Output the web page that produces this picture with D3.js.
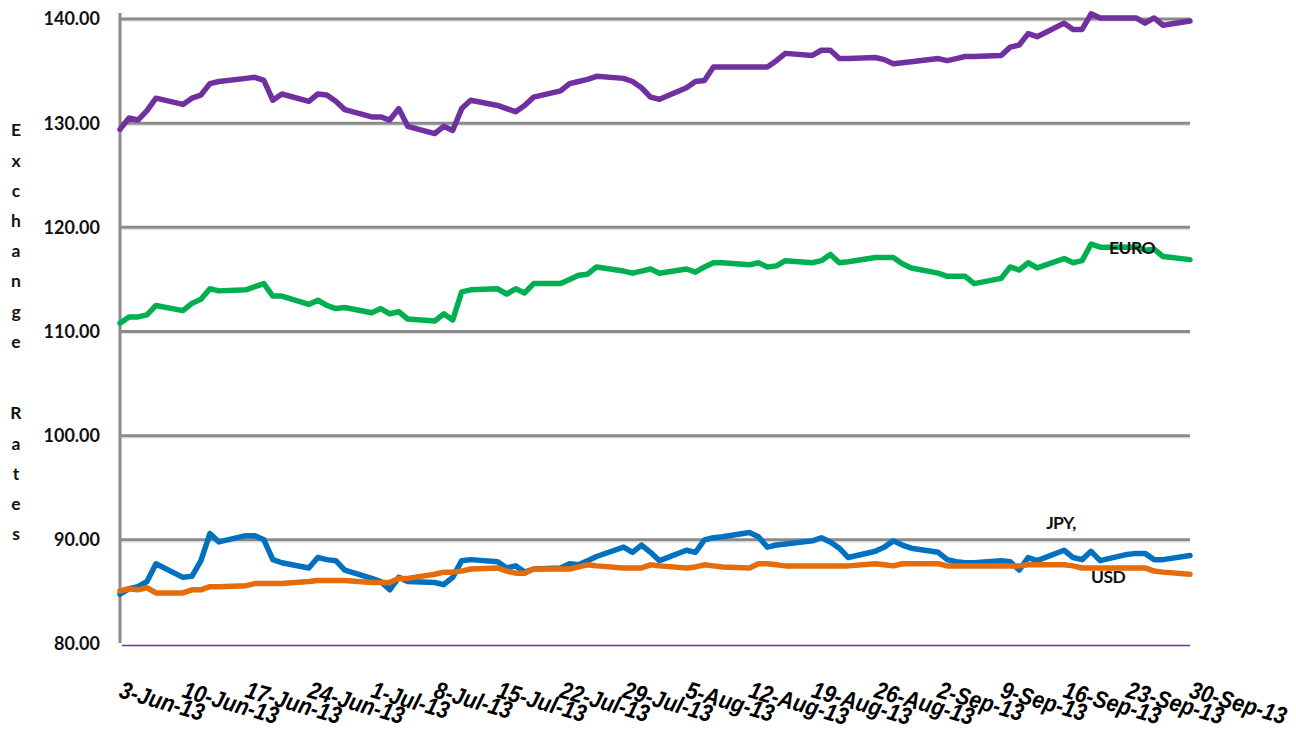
<!DOCTYPE html>
<html>
<head>
<meta charset="utf-8">
<script src="https://cdn.jsdelivr.net/npm/d3@7"></script>
<style>
  html, body { margin: 0; padding: 0; background: #fff; }
  svg { display: block; }
</style>
</head>
<body>
<svg id="chart" width="1296" height="734"></svg>
<script>
// ---------- DATA ----------
const dates = [
  "2013-06-03","2013-06-04","2013-06-05","2013-06-06","2013-06-07",
  "2013-06-10","2013-06-11","2013-06-12","2013-06-13","2013-06-14",
  "2013-06-17","2013-06-18","2013-06-19","2013-06-20","2013-06-21",
  "2013-06-24","2013-06-25","2013-06-26","2013-06-27","2013-06-28",
  "2013-07-01","2013-07-02","2013-07-03","2013-07-04","2013-07-05",
  "2013-07-08","2013-07-09","2013-07-10","2013-07-11","2013-07-12",
  "2013-07-15","2013-07-16","2013-07-17","2013-07-18","2013-07-19",
  "2013-07-22","2013-07-23","2013-07-24","2013-07-25","2013-07-26",
  "2013-07-29","2013-07-30","2013-07-31","2013-08-01","2013-08-02",
  "2013-08-05","2013-08-06","2013-08-07","2013-08-08","2013-08-09",
  "2013-08-12","2013-08-13","2013-08-14","2013-08-15","2013-08-16",
  "2013-08-19","2013-08-20","2013-08-21","2013-08-22","2013-08-23",
  "2013-08-26","2013-08-27","2013-08-28","2013-08-29","2013-08-30",
  "2013-09-02","2013-09-03","2013-09-04","2013-09-05","2013-09-06",
  "2013-09-09","2013-09-10","2013-09-11","2013-09-12","2013-09-13",
  "2013-09-16","2013-09-17","2013-09-18","2013-09-19","2013-09-20",
  "2013-09-23","2013-09-24","2013-09-25","2013-09-26","2013-09-27",
  "2013-09-30"
];

const gbp = [
  129.4,130.5,130.3,131.2,132.4,
  131.8,132.4,132.7,133.8,134.0,
  134.3,134.4,134.1,132.2,132.8,
  132.1,132.8,132.7,132.1,131.3,
  130.6,130.6,130.3,131.4,129.7,
  129.0,129.7,129.3,131.4,132.2,
  131.7,131.4,131.1,131.7,132.5,
  133.1,133.8,134.0,134.2,134.5,
  134.3,134.0,133.4,132.5,132.3,
  133.4,134.0,134.1,135.4,135.4,
  135.4,135.4,135.4,136.0,136.7,
  136.5,137.0,137.0,136.2,136.2,
  136.3,136.1,135.7,135.8,135.9,
  136.2,136.0,136.2,136.4,136.4,
  136.5,137.3,137.5,138.6,138.3,
  139.6,139.0,139.0,140.5,140.1,
  140.1,140.1,139.6,140.1,139.4,
  139.8
];

const euro = [
  110.8,111.4,111.4,111.6,112.5,
  112.0,112.7,113.1,114.1,113.9,
  114.0,114.3,114.6,113.4,113.4,
  112.6,113.0,112.5,112.2,112.3,
  111.8,112.2,111.7,111.9,111.2,
  111.0,111.7,111.1,113.8,114.0,
  114.1,113.6,114.1,113.7,114.6,
  114.6,115.0,115.4,115.5,116.2,
  115.8,115.6,115.8,116.0,115.6,
  116.0,115.7,116.2,116.6,116.6,
  116.4,116.6,116.2,116.3,116.8,
  116.6,116.8,117.4,116.6,116.7,
  117.1,117.1,117.1,116.5,116.1,
  115.6,115.3,115.3,115.3,114.6,
  115.1,116.2,115.9,116.6,116.1,
  117.0,116.6,116.8,118.4,118.1,
  118.1,118.1,117.8,117.9,117.2,
  116.9
];

const jpy = [
  84.8,85.3,85.5,86.0,87.7,
  86.4,86.5,88.0,90.6,89.8,
  90.4,90.4,90.0,88.1,87.8,
  87.3,88.3,88.1,88.0,87.1,
  86.3,86.0,85.2,86.4,86.0,
  85.9,85.7,86.4,88.0,88.1,
  87.9,87.3,87.5,86.9,87.2,
  87.3,87.7,87.6,88.0,88.4,
  89.3,88.8,89.5,88.8,88.0,
  89.0,88.8,90.0,90.2,90.3,
  90.7,90.3,89.3,89.5,89.6,
  89.9,90.2,89.8,89.2,88.3,
  88.9,89.3,89.9,89.5,89.2,
  88.8,88.1,87.9,87.8,87.8,
  88.0,87.9,87.1,88.3,88.0,
  89.0,88.3,88.1,88.9,88.0,
  88.6,88.7,88.7,88.1,88.1,
  88.5
];

const usd = [
  85.1,85.3,85.2,85.4,84.9,
  84.9,85.2,85.2,85.5,85.5,
  85.6,85.8,85.8,85.8,85.8,
  86.0,86.1,86.1,86.1,86.1,
  85.9,85.9,85.9,86.3,86.3,
  86.7,86.9,86.9,87.0,87.2,
  87.3,87.0,86.8,86.8,87.2,
  87.2,87.2,87.4,87.6,87.5,
  87.3,87.3,87.3,87.6,87.5,
  87.3,87.4,87.6,87.5,87.4,
  87.3,87.7,87.7,87.6,87.5,
  87.5,87.5,87.5,87.5,87.5,
  87.7,87.6,87.5,87.7,87.7,
  87.7,87.5,87.5,87.5,87.5,
  87.5,87.5,87.5,87.6,87.6,
  87.6,87.5,87.3,87.3,87.3,
  87.3,87.3,87.3,87.0,86.9,
  86.7
];

const tickDates = [
  "2013-06-03","2013-06-10","2013-06-17","2013-06-24","2013-07-01","2013-07-08",
  "2013-07-15","2013-07-22","2013-07-29","2013-08-05","2013-08-12","2013-08-19",
  "2013-08-26","2013-09-02","2013-09-09","2013-09-16","2013-09-23","2013-09-30"
];
const tickLabels = [
  "3-Jun-13","10-Jun-13","17-Jun-13","24-Jun-13","1-Jul-13","8-Jul-13",
  "15-Jul-13","22-Jul-13","29-Jul-13","5-Aug-13","12-Aug-13","19-Aug-13",
  "26-Aug-13","2-Sep-13","9-Sep-13","16-Sep-13","23-Sep-13","30-Sep-13"
];
const yTicks = [80, 90, 100, 110, 120, 130, 140];
const yTitleWords = ["Exchange", "Rates"];
const seriesNames = ["GBP", "EURO", "JPY", "USD"];
const seriesLabels = [
  { series: "EURO", text: "EURO", date: "2013-09-21", value: 117.44 },
  { series: "JPY",  text: "JPY,", date: "2013-09-14", value: 91.03 },
  { series: "USD",  text: "USD",  date: "2013-09-19", value: 85.86 }
];

// ---------- CHART ----------
const parse = d3.utcParse("%Y-%m-%d");
const svg = d3.select("#chart");
const plotLeft = 120, plotRight = 1190, plotTop = 19, plotBottom = 644;

const x = d3.scaleUtc()
  .domain([parse(tickDates[0]), parse(tickDates[tickDates.length - 1])])
  .range([plotLeft, plotRight]);
const y = d3.scaleLinear().domain([80, 140]).range([plotBottom, plotTop]);

const colors = { GBP: "#7030A0", EURO: "#00B050", JPY: "#0070C0", USD: "#E46C0A" };
const valuesBy = { GBP: gbp, EURO: euro, JPY: jpy, USD: usd };

// gridlines
const grid = svg.append("g");
grid.selectAll("line.shadow")
  .data(yTicks.filter(v => v > 80))
  .join("line")
  .attr("class", "shadow")
  .attr("x1", plotLeft).attr("x2", plotRight)
  .attr("y1", d => y(d) + 2.2).attr("y2", d => y(d) + 2.2)
  .attr("stroke", "#e3e3e3").attr("stroke-width", 1.2);
grid.selectAll("line.g")
  .data(yTicks.filter(v => v > 80))
  .join("line")
  .attr("class", "g")
  .attr("x1", plotLeft).attr("x2", plotRight)
  .attr("y1", d => y(d)).attr("y2", d => y(d))
  .attr("stroke", "#8a8a8a").attr("stroke-width", 3);

// left axis line
svg.append("line")
  .attr("x1", plotLeft).attr("x2", plotLeft)
  .attr("y1", plotTop - 6).attr("y2", plotBottom - 1)
  .attr("stroke", "#8a8a8a").attr("stroke-width", 3);

// bottom axis (purple thin)
svg.append("line")
  .attr("x1", plotLeft + 2).attr("x2", plotRight)
  .attr("y1", plotBottom + 1.5).attr("y2", plotBottom + 1.5)
  .attr("stroke", "#7030A0").attr("stroke-width", 1.3);

// y tick labels
svg.append("g").selectAll("text")
  .data(yTicks)
  .join("text")
  .attr("x", 100)
  .attr("y", d => y(d))
  .attr("dy", "0.36em")
  .attr("text-anchor", "end")
  .attr("font-family", "Lato, 'Open Sans', sans-serif")
  .attr("font-weight", 700)
  .attr("font-size", 18)
  .attr("fill", "#111")
  .text(d => d3.format(".2f")(d));

// y title (stacked letters)
const yt = svg.append("g")
  .attr("font-family", "Lato, 'Open Sans', sans-serif")
  .attr("font-weight", 700)
  .attr("font-size", 17.5)
  .attr("fill", "#111")
  .attr("text-anchor", "middle");
const starts = [130, 413];
yTitleWords.forEach((w, wi) => {
  w.split("").forEach((ch, i) => {
    yt.append("text")
      .attr("x", 16)
      .attr("y", starts[wi] + i * 30.2)
      .attr("dy", "0.36em")
      .text(ch);
  });
});

// x tick labels
svg.append("g").selectAll("text")
  .data(tickDates)
  .join("text")
  .attr("transform", d => `translate(${x(parse(d)) - 2},697) rotate(16) scale(0.88,1)`)
  .attr("font-family", "'Liberation Sans', Arial, sans-serif")
  .attr("font-weight", 700)
  .attr("font-style", "italic")
  .attr("font-size", 24)
  .attr("fill", "#000")
  .text((d, i) => tickLabels[i]);

// lines
const line = d3.line()
  .x((d, i) => x(parse(dates[i])))
  .y(d => y(d));

svg.append("g").selectAll("path")
  .data(seriesNames)
  .join("path")
  .attr("d", s => line(valuesBy[s]))
  .attr("fill", "none")
  .attr("stroke", s => colors[s])
  .attr("stroke-width", 5.5)
  .attr("stroke-linejoin", "round")
  .attr("stroke-linecap", "round");

// series labels
svg.append("g").selectAll("text")
  .data(seriesLabels)
  .join("text")
  .attr("x", d => x(parse(d.date)))
  .attr("y", d => y(d.value))
  .attr("font-family", "Lato, 'Open Sans', sans-serif")
  .attr("font-weight", 700)
  .attr("font-size", 17.5)
  .attr("letter-spacing", -0.6)
  .attr("fill", "#111")
  .text(d => d.text);
</script>
</body>
</html>
